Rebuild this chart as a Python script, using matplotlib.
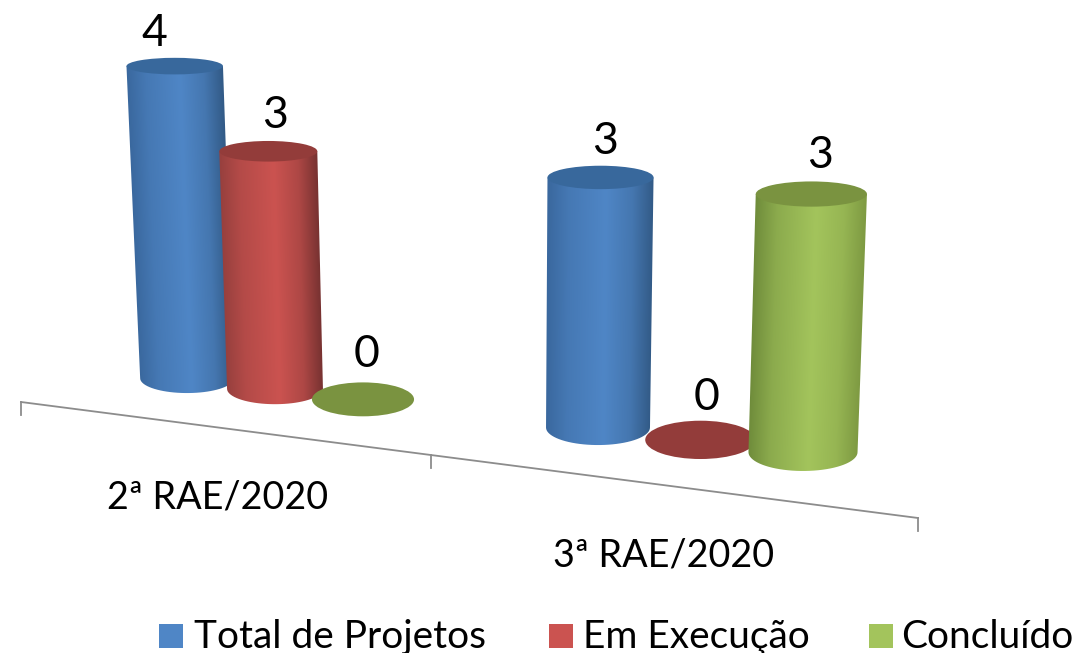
"""Pseudo-3D cylinder chart of project status per RAE meeting."""

import matplotlib

matplotlib.use("Agg")
import matplotlib.pyplot as plt
import numpy as np
from matplotlib.colors import to_rgb
from matplotlib.patches import Ellipse, PathPatch, Rectangle
from matplotlib.path import Path

categories = ["2ª RAE/2020", "3ª RAE/2020"]
series_names = ["Total de Projetos", "Em Execução", "Concluído"]
total_projetos = [4, 3]
em_execucao = [3, 0]
concluido = [0, 3]

BODY = ["#4F86C6", "#CB5350", "#A3C45C"]
EDGE_L = ["#3A689E", "#97403E", "#6F8C3B"]
EDGE_R = ["#325A86", "#773231", "#7E9A42"]
TOP = ["#38689C", "#933C3A", "#7A9340"]
TEXT = "#000000"
AXIS = "#8C8C8C"
FONT = "Lato"

# layout of the fake perspective, in pixels
GROUP_X = [187, 598]
SERIES_STEP = [88, 102.5]
AXIS_START = (21, 402)
AXIS_END = (918, 518)
AXIS_MID_X = 431
TICK_LEN = 13
# value label offset from the top of each cylinder, per group then series
LABEL_DX = [[-20, 7, 4], [5, 6, 9]]
LABEL_DY = [[-33, -36, -45], [-36, -42, -39]]


def base_point(g, s):
    x = GROUP_X[g] + s * SERIES_STEP[g]
    return x, 378 + 0.12 * (x - 185)


def project(bx, by, val):
    # top centre of a cylinder, leaning away from a vanishing line near x=510
    unit = 75.6 + 0.013 * bx
    lean = (bx - 510) * 0.0095
    return bx + val * lean, by - val * unit


def half_axes(bx, val):
    hw = 44.5 + 0.0125 * bx + 0.35 * val
    hh = (14.8 + 0.0065 * (bx - 185)) * (1 - 0.11 * val)
    return hw, hh


def cylinder(ax, bx, by, val, i):
    if val == 0:
        w, h = half_axes(bx, 0)
        ax.add_patch(Ellipse((bx, by), 2 * (w + 2), 2 * (h + 1), fc=TOP[i], ec="none", zorder=3))
        return
    tx, ty = project(bx, by, val)
    bw, bh = half_axes(bx, 0)
    tw, th = half_axes(bx, val)

    ang = np.linspace(0, np.pi, 40)
    low_x = bx + bw * np.cos(ang)
    low_y = by + bh * np.sin(ang)
    verts = [(tx - tw, ty), (tx + tw, ty)] + list(zip(low_x, low_y)) + [(tx - tw, ty)]
    codes = [Path.MOVETO] + [Path.LINETO] * (len(verts) - 2) + [Path.CLOSEPOLY]
    clip = PathPatch(Path(verts, codes), fc="none", ec="none", transform=ax.transData)
    ax.add_patch(clip)

    # shade across the body, following the slanted sides
    x0, x1 = min(tx - tw, bx - bw) - 1, max(tx + tw, bx + bw) + 1
    y0, y1 = ty - 1, by + bh + 1
    xx, yy = np.meshgrid(np.arange(x0, x1, 1.0), np.arange(y0, y1, 1.0))
    f = np.clip((yy - ty) / (by - ty), 0, 1)
    left = (tx - tw) + ((bx - bw) - (tx - tw)) * f
    right = (tx + tw) + ((bx + bw) - (tx + tw)) * f
    t = np.clip((xx - left) / (right - left), 0, 1)
    stops = [0, 0.2, 0.55, 0.8, 1]
    c_l, c_m, c_r = to_rgb(EDGE_L[i]), to_rgb(BODY[i]), to_rgb(EDGE_R[i])
    mid_l = tuple(0.45 * a + 0.55 * b for a, b in zip(c_l, c_m))
    mid_r = tuple(0.35 * a + 0.65 * b for a, b in zip(c_r, c_m))
    cols = np.array([c_l, mid_l, c_m, mid_r, c_r])
    img = np.stack([np.interp(t, stops, cols[:, k]) for k in range(3)], axis=-1)
    im = ax.imshow(img, extent=(x0, x1, y1, y0), origin="upper", interpolation="bilinear", zorder=3, aspect="auto")
    im.set_clip_path(clip)

    ax.add_patch(Ellipse((tx, ty), 2 * tw, 2 * th, fc=TOP[i], ec="none", zorder=3))


def main():
    fig = plt.figure(figsize=(10.81, 6.53), dpi=100)
    ax = fig.add_axes((0, 0, 1, 1))

    # axis line with its three ticks
    slope = (AXIS_END[1] - AXIS_START[1]) / (AXIS_END[0] - AXIS_START[0])
    ax.plot([AXIS_START[0], AXIS_END[0]], [AXIS_START[1], AXIS_END[1]], color=AXIS, lw=1.3, zorder=1)
    for tx in (AXIS_START[0], AXIS_MID_X, AXIS_END[0]):
        ty = AXIS_START[1] + slope * (tx - AXIS_START[0])
        ax.plot([tx, tx], [ty, ty + TICK_LEN], color=AXIS, lw=1.3, zorder=1)

    series = [total_projetos, em_execucao, concluido]
    for g in range(len(categories)):
        for s, values in enumerate(series):
            bx, by = base_point(g, s)
            val = values[g]
            cylinder(ax, bx, by, val, s)
            tx, ty = project(bx, by, val)
            ax.text(tx + LABEL_DX[g][s], ty + LABEL_DY[g][s], str(val), fontsize=32, family=FONT, color=TEXT,
                    ha="center", va="center", zorder=5)

    ax.text(218, 498, categories[0], fontsize=27.2, family=FONT, color=TEXT, ha="center", va="center")
    ax.text(664, 555, categories[1], fontsize=27.2, family=FONT, color=TEXT, ha="center", va="center")

    # legend, cut off by the bottom edge as in the source picture
    for name, colour, sx, tx in zip(series_names, BODY, (159, 549, 869), (194, 583, 901)):
        ax.add_patch(Rectangle((sx, 624), 24, 24, fc=colour, ec="none"))
        ax.text(tx, 648, name, fontsize=28, family=FONT, color=TEXT, ha="left", va="baseline")

    ax.set_xlim(0, 1081)
    ax.set_ylim(653, 0)
    ax.axis("off")
    fig.savefig("out.png", dpi=100, facecolor="white")


if __name__ == "__main__":
    main()
